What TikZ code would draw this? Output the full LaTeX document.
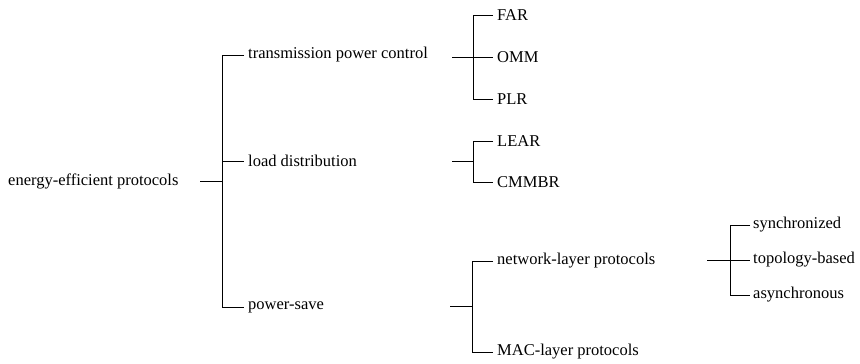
\documentclass[tikz,border=0pt]{standalone}
\usepackage{fontspec}
\setmainfont{Liberation Serif}
\usetikzlibrary{calc}
\begin{document}
\begin{tikzpicture}[x=1pt,y=-1pt,
  lbl/.style={anchor=west, inner sep=0pt, font=\fontsize{16.5}{18}\selectfont},
  ln/.style={line width=0.9pt}]
\useasboundingbox (0,0) rectangle (860,364);

% labels
\node[lbl] (root) at (8,181) {energy-efficient protocols};
\node[lbl] (tpc)  at (248,55)  {transmission power control};
\node[lbl] (ld)   at (248,161) {load distribution};
\node[lbl] (ps)   at (248,307) {power-save};
\node[lbl] (far)  at (497,15)  {FAR};
\node[lbl] (omm)  at (497,57)  {OMM};
\node[lbl] (plr)  at (497,99)  {PLR};
\node[lbl] (lear) at (497,141) {LEAR};
\node[lbl] (cmm)  at (497,182) {CMMBR};
\node[lbl] (nlp)  at (497,261) {network-layer protocols};
\node[lbl] (mac)  at (497,352) {MAC-layer protocols};
\node[lbl] (syn)  at (753,225) {synchronized};
\node[lbl] (top)  at (753,260) {topology-based};
\node[lbl] (asy)  at (753,295) {asynchronous};

% stub starts and junction columns
\coordinate (rootS) at (200,181);  \coordinate (rootJ) at (222,181);
\coordinate (tpcS)  at (452,57);   \coordinate (tpcJ)  at (473,57);
\coordinate (ldS)   at (452,161.5);\coordinate (ldJ)   at (473,161.5);
\coordinate (psS)   at (450,306.5);\coordinate (psJ)   at (472,306.5);
\coordinate (nlpS)  at (707,260);  \coordinate (nlpJ)  at (730,260);

% root level
\draw[ln] (rootS) -- (rootJ);
\draw[ln] ([xshift=-4pt]tpc.west) -- (tpc.west -| rootJ) -- (ps.west -| rootJ) -- ([xshift=-4pt]ps.west);
\draw[ln] (ld.west -| rootJ) -- ([xshift=-4pt]ld.west);

% transmission power control
\draw[ln] (tpcS) -- (tpcJ);
\draw[ln] ([xshift=-4pt]far.west) -- (far.west -| tpcJ) -- (plr.west -| tpcJ) -- ([xshift=-4pt]plr.west);
\draw[ln] (omm.west -| tpcJ) -- ([xshift=-4pt]omm.west);

% load distribution
\draw[ln] (ldS) -- (ldJ);
\draw[ln] ([xshift=-4pt]lear.west) -- (lear.west -| ldJ) -- (cmm.west -| ldJ) -- ([xshift=-4pt]cmm.west);

% power-save
\draw[ln] (psS) -- (psJ);
\draw[ln] ([xshift=-4pt]nlp.west) -- (nlp.west -| psJ) -- (mac.west -| psJ) -- ([xshift=-4pt]mac.west);

% network-layer protocols
\draw[ln] (nlpS) -- (nlpJ);
\draw[ln] ([xshift=-3pt]syn.west) -- (syn.west -| nlpJ) -- (asy.west -| nlpJ) -- ([xshift=-3pt]asy.west);
\draw[ln] (top.west -| nlpJ) -- ([xshift=-3pt]top.west);
\end{tikzpicture}
\end{document}
